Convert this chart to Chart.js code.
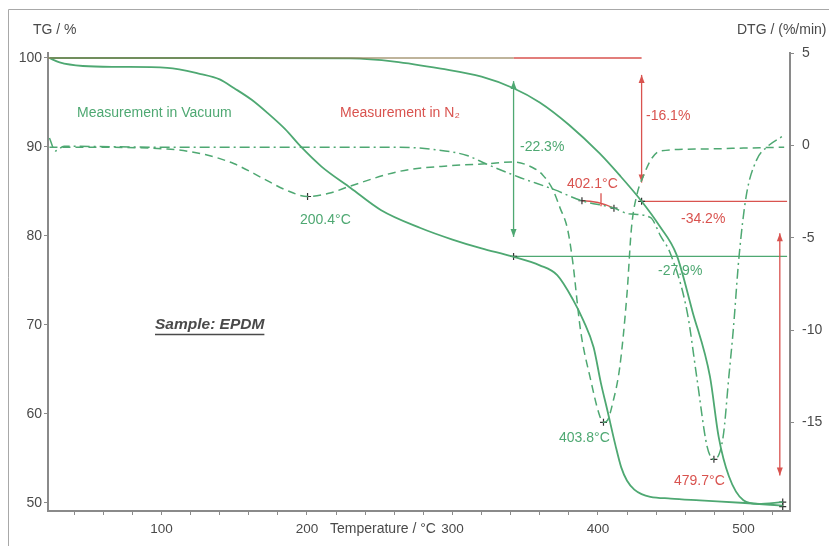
<!DOCTYPE html>
<html>
<head>
<meta charset="utf-8">
<title>TG / DTG - EPDM</title>
<script src="https://cdn.jsdelivr.net/npm/chart.js@4.4.1/dist/chart.umd.min.js"></script>
<style>
  html, body { margin: 0; padding: 0; background: #fff; }
  #wrap { position: relative; width: 829px; height: 546px; }
</style>
</head>
<body>
<div id="wrap"><canvas id="mainChart" width="829" height="546"></canvas></div>
<script>
// Temperature (°C) / value pairs
const vacTgTemp = [23, 30, 46, 70, 104, 127, 140, 150, 162, 173, 185, 196, 210, 230, 251, 278, 300, 320, 341, 360, 372, 383, 390, 397, 402, 406.5, 412, 416, 420, 425, 430, 436, 450, 470, 501, 527];
const vacTgVal  = [100, 99.5, 99.1, 99.0, 98.9, 98.2, 97.6, 96.6, 95.3, 93.8, 92.0, 90.0, 87.8, 85.4, 82.9, 80.9, 79.6, 78.6, 77.7, 76.7, 75.6, 72.8, 70.5, 67.5, 63.5, 60.4, 56.5, 54.0, 52.5, 51.5, 51.0, 50.7, 50.5, 50.3, 50.0, 49.7];

const n2TgTemp = [23, 150, 230, 260, 292, 320, 342, 360, 380, 401, 415, 430, 442, 454, 465, 477, 483, 490, 500, 510, 527];
const n2TgVal  = [100, 100, 99.95, 99.6, 98.8, 97.9, 96.6, 95.0, 92.5, 89.3, 86.8, 83.9, 81.2, 77.9, 71.5, 64.2, 57.4, 53.0, 50.3, 49.9, 50.1];

const vacDtgTemp = [23, 30, 40, 104, 130, 150, 170, 185, 200.4, 215, 230, 264, 299, 323, 342, 355, 362, 369, 374, 379, 382.5, 388, 395, 401, 403.8, 406.5, 410, 415, 420, 423, 427, 431, 437, 443, 470, 500, 528];
const vacDtgVal  = [-0.1, -0.1, -0.1, -0.2, -0.5, -1.0, -1.8, -2.4, -2.77, -2.6, -2.2, -1.4, -1.1, -1.0, -0.9, -1.2, -1.6, -2.4, -3.4, -4.5, -6.2, -10.0, -12.7, -14.6, -15.0, -14.9, -14.0, -12.0, -8.0, -4.5, -2.6, -1.7, -0.7, -0.3, -0.2, -0.15, -0.1];

const n2DtgTemp = [23, 27, 33, 100, 200, 260, 290, 310, 323, 345, 370, 389, 411, 421, 436, 443, 450, 461.5, 468, 475, 479.7, 486, 490, 493, 497, 502, 509, 516, 527];
const n2DtgVal  = [0.4, -0.3, -0.05, -0.1, -0.1, -0.1, -0.25, -0.55, -1.0, -1.7, -2.4, -3.0, -3.4, -3.7, -3.9, -4.9, -5.9, -9.1, -12.6, -16.3, -17.0, -15.8, -12.5, -10.0, -6.0, -2.7, -0.8, -0.1, 0.5];

// evaluation points (+ marks)
const tgMarkTemp = [342, 430, 527, 527];
const tgMarkVal  = [77.7, 83.9, 50.1, 49.6];
const dtgMarkTemp = [200.4, 403.8, 479.7, 389, 411];
const dtgMarkVal  = [-2.77, -15.0, -17.0, -3.0, -3.4];

// axis ranges and ticks
const xMin = 22, xMax = 532, xStep = 20, xLabelStep = 100;
const tgMin = 49.1, tgMax = 100.56, tgStep = 10;
const dtgMin = -19.8, dtgMax = 5, dtgStep = 5;

// step annotations (temperature, TG values)
const vacStep = { t: 342, top: 100, level: 77.7, arrowTop: 97.4, arrowBottom: 79.9, end: 530 };
const n2Step  = { t: 430, top: 100, level: 83.9, arrowTop: 98.1, arrowBottom: 86.0, end: 530 };
const totalArrow = { t: 525, top: 80.3, bottom: 53.1 };

const GREEN = '#4ea872';
const RED = '#d9534f';
const TEXT = '#4a4a4a';
const AXIS = '#8a8a8a';
const FONT = '"Liberation Sans", Arial, sans-serif';
const NOTE = '14px ' + FONT;

function zip(xs, ys) {
    return xs.map((x, i) => ({ x: x, y: ys[i] }));
}

// Arrow with heads on both ends, vertical
function vArrow(ctx, x, y1, y2, color) {
    ctx.save();
    ctx.strokeStyle = color;
    ctx.fillStyle = color;
    ctx.lineWidth = 1.3;
    ctx.beginPath();
    ctx.moveTo(x, y1);
    ctx.lineTo(x, y2);
    ctx.stroke();
    [[y1, 1], [y2, -1]].forEach(([y, d]) => {
        ctx.beginPath();
        ctx.moveTo(x, y);
        ctx.lineTo(x - 3, y + d * 8);
        ctx.lineTo(x + 3, y + d * 8);
        ctx.closePath();
        ctx.fill();
    });
    ctx.restore();
}

function hLine(ctx, x1, x2, y, color, width) {
    ctx.save();
    ctx.strokeStyle = color;
    ctx.lineWidth = width || 1.3;
    ctx.beginPath();
    ctx.moveTo(x1, y);
    ctx.lineTo(x2, y);
    ctx.stroke();
    ctx.restore();
}

function text(ctx, str, x, y, color, font) {
    ctx.save();
    ctx.fillStyle = color;
    ctx.font = font || NOTE;
    ctx.textAlign = 'left';
    ctx.textBaseline = 'middle';
    ctx.fillText(str, x, y);
    ctx.restore();
}

// Frame, annotations and texts
const annotations = {
    id: 'annotations',
    beforeDatasetsDraw(chart) {
        const ctx = chart.ctx;
        const x = chart.scales.x, y = chart.scales.y, y2 = chart.scales.y2;

        // outer frame
        ctx.save();
        ctx.strokeStyle = '#a8a8a8';
        ctx.lineWidth = 1;
        ctx.beginPath();
        ctx.moveTo(8.5, 546);
        ctx.lineTo(8.5, 9.5);
        ctx.lineTo(829, 9.5);
        ctx.stroke();
        ctx.restore();

        // vacuum step
        vArrow(ctx, x.getPixelForValue(vacStep.t), y.getPixelForValue(vacStep.arrowTop), y.getPixelForValue(vacStep.arrowBottom), GREEN);
        hLine(ctx, x.getPixelForValue(vacStep.t), x.getPixelForValue(vacStep.end), y.getPixelForValue(vacStep.level), GREEN, 1.3);

        // N2 step
        vArrow(ctx, x.getPixelForValue(n2Step.t), y.getPixelForValue(n2Step.arrowTop), y.getPixelForValue(n2Step.arrowBottom), RED);
        hLine(ctx, x.getPixelForValue(n2Step.t), x.getPixelForValue(n2Step.end), y.getPixelForValue(n2Step.level), RED, 1.3);

        // total loss arrow
        vArrow(ctx, x.getPixelForValue(totalArrow.t), y.getPixelForValue(totalArrow.top), y.getPixelForValue(totalArrow.bottom), RED);

        // 402.1 °C onset construction
        ctx.save();
        ctx.strokeStyle = RED;
        ctx.lineWidth = 1.3;
        ctx.beginPath();
        ctx.moveTo(x.getPixelForValue(389), y2.getPixelForValue(-3.0));
        ctx.quadraticCurveTo(x.getPixelForValue(400), y2.getPixelForValue(-3.0), x.getPixelForValue(411), y2.getPixelForValue(-3.4));
        ctx.moveTo(x.getPixelForValue(402.1), y2.getPixelForValue(-2.6));
        ctx.lineTo(x.getPixelForValue(402.1), y2.getPixelForValue(-3.3));
        ctx.stroke();
        ctx.restore();
    },
    afterDatasetsDraw(chart) {
        const ctx = chart.ctx;
        const x = chart.scales.x, y = chart.scales.y;
        // baseline at 100 %: overlapped part brownish, the rest red
        hLine(ctx, x.getPixelForValue(vacStep.t), x.getPixelForValue(n2Step.t), y.getPixelForValue(n2Step.top), RED, 1.4);
        ctx.save();
        ctx.globalAlpha = 0.75;
        hLine(ctx, x.getPixelForValue(xMin), x.getPixelForValue(vacStep.t), y.getPixelForValue(vacStep.top), '#8d7a4e', 1.4);
        ctx.restore();
    },
    afterDraw(chart) {
        const ctx = chart.ctx;
        text(ctx, 'TG / %', 33, 30, TEXT, NOTE);
        text(ctx, 'DTG / (%/min)', 737, 30, TEXT, NOTE);
        text(ctx, 'Temperature / °C', 330, 529, TEXT, NOTE);

        text(ctx, 'Measurement in Vacuum', 77, 113, GREEN);
        text(ctx, 'Measurement in N₂', 340, 113, RED);
        text(ctx, '-22.3%', 520, 147, GREEN);
        text(ctx, '-16.1%', 646, 116, RED);
        text(ctx, '402.1°C', 567, 184, RED);
        text(ctx, '-34.2%', 681, 219, RED);
        text(ctx, '-27.9%', 658, 271, GREEN);
        text(ctx, '200.4°C', 300, 220, GREEN);
        text(ctx, '403.8°C', 559, 438, GREEN);
        text(ctx, '479.7°C', 674, 481, RED);

        // sample label, underlined
        const sampleFont = 'italic bold 15.5px ' + FONT;
        ctx.save();
        ctx.font = sampleFont;
        const w = ctx.measureText('Sample: EPDM').width;
        ctx.restore();
        text(ctx, 'Sample: EPDM', 155, 325, TEXT, sampleFont);
        hLine(ctx, 155, 155 + w, 334.5, TEXT, 1.3);
    }
};

function initializeChart() {
    const ctx = document.getElementById('mainChart');

    const curve = (data, axis, dash, width) => ({
        data: data,
        yAxisID: axis,
        borderColor: GREEN,
        borderWidth: width,
        borderDash: dash,
        pointRadius: 0,
        fill: false,
        cubicInterpolationMode: 'monotone'
    });

    const marks = (data, axis) => ({
        data: data,
        yAxisID: axis,
        showLine: false,
        pointStyle: 'cross',
        pointRadius: 3.5,
        borderColor: '#333',
        borderWidth: 1.2
    });

    new Chart(ctx, {
        type: 'line',
        data: {
            datasets: [
                curve(zip(vacTgTemp, vacTgVal), 'y', [], 1.8),
                curve(zip(n2TgTemp, n2TgVal), 'y', [], 1.8),
                curve(zip(vacDtgTemp, vacDtgVal), 'y2', [8, 5], 1.5),
                curve(zip(n2DtgTemp, n2DtgVal), 'y2', [10, 4, 2, 4], 1.5),
                marks(zip(tgMarkTemp, tgMarkVal), 'y'),
                marks(zip(dtgMarkTemp, dtgMarkVal), 'y2')
            ]
        },
        options: {
            responsive: false,
            animation: false,
            layout: { padding: { top: 53, left: 0, right: 0, bottom: 0 } },
            plugins: {
                legend: { display: false },
                tooltip: { enabled: false }
            },
            scales: {
                x: {
                    type: 'linear',
                    min: xMin,
                    max: xMax,
                    afterFit: s => { s.height = 35; },
                    border: { color: AXIS, width: 2 },
                    grid: { drawOnChartArea: false, color: AXIS, tickLength: 4 },
                    ticks: {
                        stepSize: xStep,
                        includeBounds: false,
                        autoSkip: false,
                        maxRotation: 0,
                        padding: 6,
                        color: TEXT,
                        font: { family: FONT, size: 13.5 },
                        callback: v => (v % xLabelStep === 0 ? v : '')
                    }
                },
                y: {
                    position: 'left',
                    min: tgMin,
                    max: tgMax,
                    afterFit: s => { s.width = 48; },
                    border: { color: AXIS, width: 2 },
                    grid: { drawOnChartArea: false, color: AXIS, tickLength: 4 },
                    ticks: {
                        stepSize: tgStep,
                        includeBounds: false,
                        padding: 2,
                        color: TEXT,
                        font: { family: FONT, size: 14 }
                    }
                },
                y2: {
                    position: 'right',
                    min: dtgMin,
                    max: dtgMax,
                    afterFit: s => { s.width = 39; },
                    border: { color: AXIS, width: 2 },
                    grid: { drawOnChartArea: false, color: AXIS, tickLength: 4 },
                    ticks: {
                        stepSize: dtgStep,
                        includeBounds: false,
                        padding: 8,
                        color: TEXT,
                        font: { family: FONT, size: 14 }
                    }
                }
            }
        },
        plugins: [annotations]
    });
}

document.addEventListener('DOMContentLoaded', initializeChart);
</script>
</body>
</html>
